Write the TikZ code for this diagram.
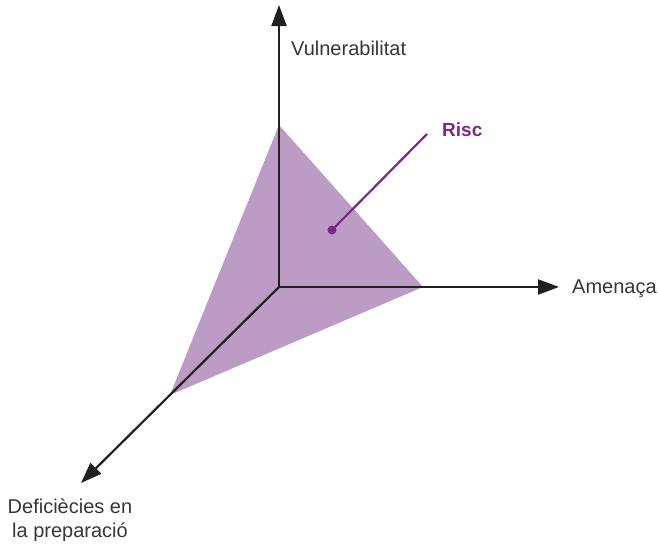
\documentclass[tikz,border=0pt]{standalone}
\usepackage{fontspec}
\setmainfont{Liberation Sans}
\usetikzlibrary{arrows.meta}
\definecolor{riscfill}{HTML}{BC9BC4}
\definecolor{riscpurple}{HTML}{7B2A83}
\definecolor{axisgrey}{HTML}{231F20}
\begin{document}
\begin{tikzpicture}[x=1pt, y=-1pt,
    axis/.style={draw=axisgrey, line width=2.2pt, -{Triangle[length=21pt, width=15pt]}},
    axislabel/.style={font=\fontsize{20}{24}\selectfont, text=axisgrey!90, inner sep=0pt},
    risclabel/.style={font=\fontsize{19}{23}\selectfont\bfseries, text=riscpurple, inner sep=0pt},
    leader/.style={draw=riscpurple, line width=2.2pt}
]
    \useasboundingbox (0,0) rectangle (658,544);

    % axes and risk triangle
    \coordinate (origin) at (279,287);
    \coordinate (vtip) at (279,5);
    \coordinate (atip) at (559,287);
    \coordinate (dtip) at (81,483);
    \coordinate (vtop) at (279,125);
    \coordinate (aright) at (423,287);
    \coordinate (dleft) at (170,395);

    \fill [riscfill] (vtop) -- (aright) -- (dleft) -- cycle;

    \draw [axis] (origin) -- (vtip);
    \draw [axis] (origin) -- (atip);
    \draw [axis] (origin) -- (dtip);

    \node [axislabel, anchor=base west] (vuln) at (291,55) {Vulnerabilitat};
    \node [axislabel, anchor=base west] (amen) at (572,293) {Amenaça};
    \node [axislabel, anchor=base, align=center] (defic) at (70,537) {Deficiècies en\\la preparació};

    % risk label with leader line
    \node [risclabel, anchor=base west] (risc) at (442,136) {Risc};
    \coordinate (riscend) at (427,134);
    \coordinate (riscdot) at (332,230);
    \draw [leader] (riscend) -- (riscdot);
    \fill [riscpurple] (riscdot) circle (4.5);
\end{tikzpicture}
\end{document}
